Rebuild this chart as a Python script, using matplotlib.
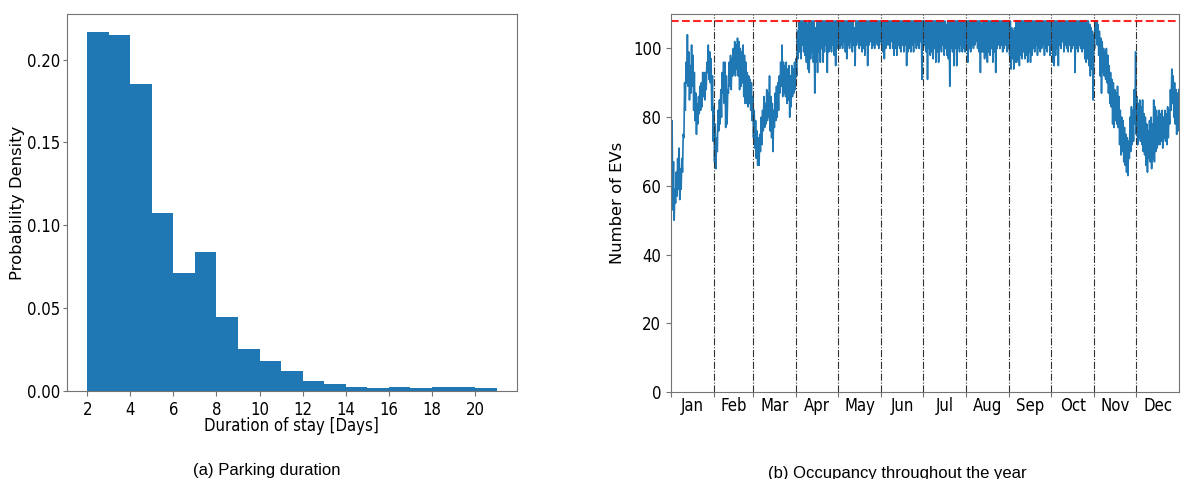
import numpy as np
import matplotlib
matplotlib.use("Agg")
import matplotlib.pyplot as plt
from matplotlib.ticker import FormatStrFormatter

# ------------------------------------------------------------
# Parking duration histogram (density per 1-day bin)
# ------------------------------------------------------------
bin_edges = list(range(2, 22))
density = [0.2167, 0.2149, 0.1851, 0.1075, 0.0710, 0.0838, 0.0448, 0.0251,
           0.0179, 0.0123, 0.0060, 0.0042, 0.0024, 0.0016, 0.0024, 0.0020,
           0.0024, 0.0024, 0.0020]

# ------------------------------------------------------------
# Occupancy over the year: daily low / high number of parked EVs
# ------------------------------------------------------------
occ_low = [
    # Jan
    67, 53, 50, 55, 57, 59, 56, 59, 64, 74, 82, 90, 89, 85, 87, 89, 82, 79, 75, 78,
    81, 82, 83, 86, 85, 88, 93, 91, 90, 82, 73,
    # Feb
    67, 65, 70, 76, 78, 80, 87, 84, 77, 78, 87, 89, 88, 92, 93, 92, 94, 92, 88, 89,
    90, 86, 84, 84, 83, 84, 82, 79,
    # Mar
    74, 71, 68, 66, 66, 70, 72, 76, 77, 78, 79, 80, 76, 74, 70, 77, 79, 80, 82, 87,
    89, 86, 87, 86, 84, 85, 80, 83, 86, 87, 88,
    # Apr
    92, 97, 99, 97, 101, 99, 98, 96, 94, 93, 97, 99, 96, 87, 96, 93, 99, 96, 100, 96,
    99, 101, 93, 99, 100, 99, 101, 98, 95, 100,
    # May
    101, 100, 101, 100, 102, 99, 97, 101, 100, 102, 99, 101, 95, 101, 102, 100, 101,
    99, 100, 98, 101, 95, 101, 102, 100, 101, 100, 102, 101, 100, 102,
    # Jun
    101, 99, 97, 100, 101, 101, 100, 102, 100, 98, 100, 98, 101, 100, 99, 101, 99,
    101, 95, 99, 100, 99, 101, 99, 102, 100, 101, 100, 102, 91,
    # Jul
    100, 101, 99, 91, 100, 98, 99, 97, 100, 96, 99, 96, 100, 99, 101, 98, 100, 98, 97,
    89, 100, 99, 95, 100, 95, 100, 99, 101, 99, 100, 99,
    # Aug
    101, 96, 100, 99, 101, 100, 101, 102, 100, 99, 93, 99, 99, 97, 98, 96, 99, 98, 100,
    96, 99, 93, 100, 101, 100, 101, 99, 100, 101, 99, 100,
    # Sep
    98, 94, 97, 94, 96, 96, 97, 95, 98, 97, 99, 97, 98, 96, 99, 96, 98, 100, 99, 101,
    98, 100, 99, 100, 101, 98, 100, 99, 101, 98,
    # Oct
    100, 96, 95, 98, 100, 95, 101, 100, 102, 99, 101, 100, 99, 101, 99, 100, 101, 93,
    100, 99, 101, 100, 99, 100, 97, 96, 97, 95, 92, 94, 85,
    # Nov
    100, 103, 101, 98, 92, 87, 93, 92, 91, 90, 87, 84, 83, 78, 77, 79, 78, 77, 72, 69,
    70, 67, 66, 64, 63, 68, 70, 72, 73, 78,
    # Dec
    75, 72, 74, 73, 72, 70, 69, 66, 64, 68, 67, 65, 68, 67, 70, 71, 72, 72, 73, 71,
    74, 73, 72, 74, 78, 82, 84, 80, 78, 75, 76,
]
occ_high = [
    # Jan
    79, 67, 59, 64, 68, 71, 65, 68, 75, 90, 96, 104, 99, 95, 101, 98, 93, 87, 84, 86,
    89, 90, 93, 93, 93, 96, 101, 99, 97, 92, 83,
    # Feb
    78, 74, 82, 85, 88, 93, 96, 96, 92, 88, 96, 98, 97, 100, 102, 101, 103, 102, 100,
    99, 101, 98, 96, 93, 92, 91, 90, 86,
    # Mar
    82, 79, 76, 74, 75, 80, 82, 86, 84, 88, 87, 92, 86, 84, 82, 87, 89, 90, 92, 96,
    101, 96, 95, 96, 94, 95, 92, 95, 94, 96, 97,
    # Apr
    105, 108, 108, 108, 108, 108, 108, 107, 108, 108, 108, 108, 108, 106, 108, 108,
    108, 108, 108, 108, 108, 108, 108, 108, 108, 108, 108, 108, 108, 108,
    # May
    108, 108, 108, 108, 108, 108, 108, 108, 108, 108, 108, 106, 108, 108, 108, 108,
    108, 108, 108, 108, 108, 108, 108, 108, 108, 108, 108, 108, 108, 108, 108,
    # Jun
    108, 108, 108, 108, 108, 108, 108, 108, 108, 108, 108, 108, 108, 108, 108, 108,
    108, 108, 108, 108, 108, 108, 108, 108, 108, 108, 108, 108, 108, 108,
    # Jul
    108, 108, 108, 108, 108, 108, 108, 108, 108, 108, 108, 108, 108, 108, 108, 108,
    107, 108, 108, 108, 108, 108, 108, 108, 108, 108, 108, 108, 108, 108, 108,
    # Aug
    108, 108, 108, 108, 108, 108, 108, 108, 108, 108, 107, 108, 108, 108, 108, 108,
    108, 108, 108, 108, 108, 108, 108, 108, 108, 108, 108, 108, 108, 108, 108,
    # Sep
    108, 106, 105, 106, 108, 108, 108, 108, 108, 108, 108, 108, 108, 108, 108, 108,
    108, 108, 108, 108, 108, 108, 108, 108, 108, 108, 108, 108, 108, 108,
    # Oct
    108, 108, 108, 108, 108, 108, 108, 108, 108, 108, 108, 108, 108, 108, 108, 108,
    108, 108, 108, 108, 108, 108, 108, 108, 108, 108, 108, 107, 106, 105, 104,
    # Nov
    108, 108, 107, 105, 103, 102, 100, 99, 100, 98, 95, 93, 91, 90, 88, 87, 89, 86,
    82, 80, 79, 77, 75, 74, 73, 80, 83, 82, 88, 99,
    # Dec
    86, 84, 85, 83, 85, 81, 80, 78, 76, 79, 80, 78, 85, 83, 82, 80, 82, 81, 82, 80,
    82, 81, 83, 82, 88, 94, 92, 90, 88, 87, 88,
]

month_names = ["Jan", "Feb", "Mar", "Apr", "May", "Jun",
               "Jul", "Aug", "Sep", "Oct", "Nov", "Dec"]
month_days = [31, 28, 31, 30, 31, 30, 31, 31, 30, 31, 30, 31]
capacity = 108

# ------------------------------------------------------------
# Style
# ------------------------------------------------------------
plt.rcParams["font.family"] = ["DejaVu Sans"]
plt.rcParams["font.stretch"] = "condensed"
plt.rcParams["font.size"] = 12
plt.rcParams["axes.edgecolor"] = "0.45"
plt.rcParams["xtick.color"] = "0.45"
plt.rcParams["ytick.color"] = "0.45"
plt.rcParams["xtick.labelcolor"] = "black"
plt.rcParams["ytick.labelcolor"] = "black"

fig = plt.figure(figsize=(11.81, 4.79), dpi=100)
ax1 = fig.add_axes([0.0565, 0.1837, 0.3813, 0.787])
ax2 = fig.add_axes([0.5682, 0.1816, 0.4302, 0.789])

# (a) parking duration
ax1.bar(bin_edges[:-1], density, width=1.0, align="edge", color="#1f77b4", linewidth=0)
ax1.set_xticks(range(2, 21, 2))
ax1.set_yticks(np.arange(0, 0.21, 0.05))
ax1.yaxis.set_major_formatter(FormatStrFormatter("%.2f"))
ax1.tick_params(axis="y", length=3, pad=1.5)
ax1.set_xlabel("Duration of stay [Days]", labelpad=-1)
ax1.set_ylabel("Probability Density", stretch="normal", fontsize=11.8)
ax1.yaxis.set_label_coords(-0.092, 0.5)

# (b) occupancy throughout the year: zig-zag between daily low and high
days = np.arange(len(occ_low))
x = np.column_stack([days + 0.25, days + 0.75]).ravel()
y = np.column_stack([occ_low, occ_high]).ravel()
ax2.plot(x, y, color="#1f77b4", linewidth=1.2)

month_start = np.concatenate([[0], np.cumsum(month_days)])
for d in month_start[1:-1]:
    ax2.axvline(d, color="0.2", linestyle="-.", linewidth=0.8)
ax2.axhline(capacity, color="red", linestyle="--", linewidth=1.5, alpha=0.85)

ax2.set_xlim(0, 365)
ax2.set_ylim(0, 110)
ax2.set_yticks(range(0, 101, 20))
ax2.set_xticks(month_start[:-1])
ax2.set_xticklabels([])
ax2.set_xticks((month_start[:-1] + month_start[1:]) / 2, minor=True)
ax2.set_xticklabels(month_names, minor=True)
ax2.tick_params(axis="x", which="minor", length=0)
ax2.set_ylabel("Number of EVs", stretch="normal", fontsize=11.8)
ax2.yaxis.set_label_coords(-0.090, 0.5)

# sub-figure captions
fig.text(0.226, 0.009, "(a) Parking duration", ha="center", va="baseline",
         family="Liberation Sans", stretch="normal", fontsize=12)
fig.text(0.760, 0.003, "(b) Occupancy throughout the year", ha="center", va="baseline",
         family="Liberation Sans", stretch="normal", fontsize=12)

fig.savefig("out.png", dpi=100)
